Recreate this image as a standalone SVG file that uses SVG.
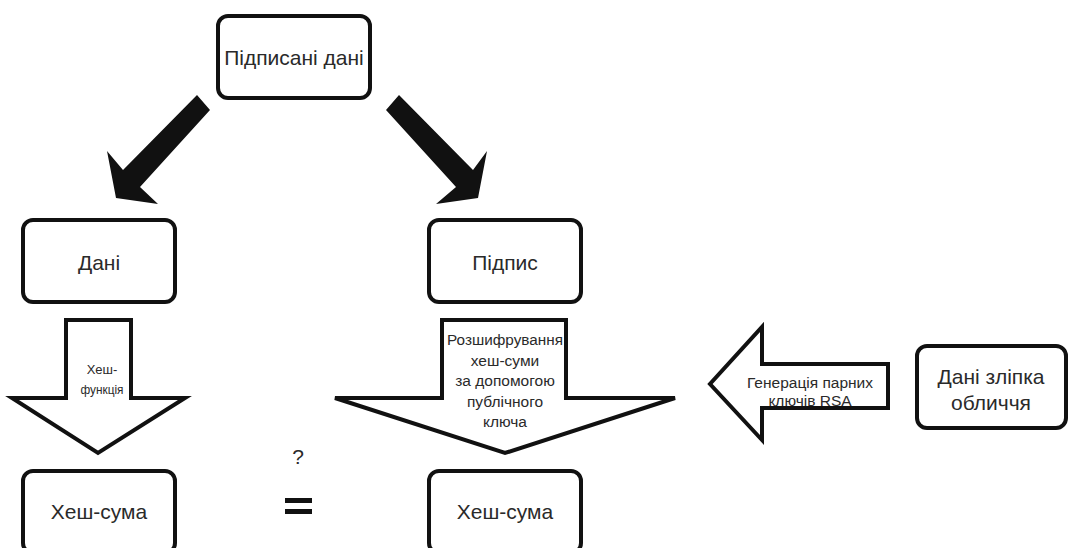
<svg xmlns="http://www.w3.org/2000/svg" width="1070" height="548" viewBox="0 0 1070 548">
  <style>
    .box { fill: #ffffff; stroke: #111111; stroke-width: 4; }
    .hollow { fill: #ffffff; stroke: #111111; stroke-width: 4; stroke-linejoin: miter; }
    .solid { fill: #111111; stroke: none; }
    text { font-family: "Liberation Sans", Arial, sans-serif; fill: #2a2a2a; text-anchor: middle; }
    .lbl { font-size: 21px; }
    .mid { font-size: 15.5px; }
    .tiny { font-size: 13px; }
  </style>

  <rect width="1070" height="548" fill="#ffffff"/>

  <!-- connectors: heavy arrows and block arrows -->
  <g id="connectors">
    <polygon class="solid" points="197,95 123,170 107,151 116,198 158,204 140,187 210,110"/>
    <polygon class="solid" points="399,95 473,170 487,151 478,198 436,204 456,187 386,110"/>
    <g id="hash-arrow">
      <polygon class="hollow" points="66,320 131,320 131,398 185,398 98,453 12,398 66,398"/>
      <text class="tiny" x="102" y="374">Хеш-</text>
      <text class="tiny" x="102" y="394" textLength="43" lengthAdjust="spacingAndGlyphs">функція</text>
    </g>
    <g id="decrypt-arrow">
      <polygon class="hollow" points="442,320 566,320 566,398 675,398 505,453 335,398 442,398"/>
      <text class="mid" x="505" y="345" textLength="116" lengthAdjust="spacingAndGlyphs">Розшифрування</text>
      <text class="mid" x="505" y="366">хеш-суми</text>
      <text class="mid" x="505" y="386">за допомогою</text>
      <text class="mid" x="505" y="407">публічного</text>
      <text class="mid" x="505" y="427">ключа</text>
    </g>
    <g id="rsa-arrow">
      <polygon class="hollow" points="888,364 888,408 762,408 762,440 710,384 762,327 762,364"/>
      <text class="mid" x="810" y="388">Генерація парних</text>
      <text class="mid" x="810" y="406">ключів RSA</text>
    </g>
  </g>

  <g id="signed-data">
    <rect class="box" x="218" y="16" width="152" height="82" rx="10"/>
    <text class="lbl" x="294" y="65">Підписані дані</text>
  </g>
  <g id="data">
    <rect class="box" x="23" y="220" width="152" height="82" rx="10"/>
    <text class="lbl" x="99" y="270">Дані</text>
  </g>
  <g id="signature">
    <rect class="box" x="429" y="220" width="152" height="82" rx="10"/>
    <text class="lbl" x="505" y="270">Підпис</text>
  </g>
  <g id="hash-left">
    <rect class="box" x="23" y="471" width="152" height="82" rx="10"/>
    <text class="lbl" x="99" y="519">Хеш-сума</text>
  </g>
  <g id="hash-right">
    <rect class="box" x="429" y="471" width="152" height="82" rx="10"/>
    <text class="lbl" x="505" y="519">Хеш-сума</text>
  </g>
  <g id="face-data">
    <rect class="box" x="917" y="346" width="149" height="82" rx="10"/>
    <text class="lbl" x="991" y="384">Дані зліпка</text>
    <text class="lbl" x="991" y="410">обличчя</text>
  </g>

  <g id="compare">
    <text x="298" y="464" font-size="21">?</text>
    <rect x="285" y="498" width="27" height="5" fill="#111111"/>
    <rect x="285" y="509" width="27" height="5" fill="#111111"/>
  </g>
</svg>
